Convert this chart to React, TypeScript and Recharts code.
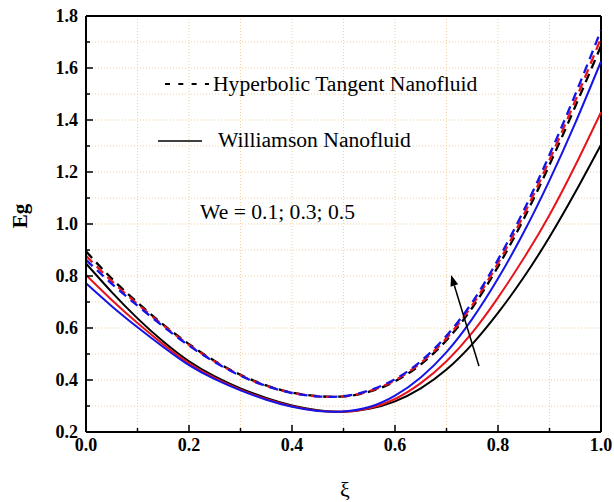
import React from "react";
import {
  LineChart,
  Line,
  XAxis,
  YAxis,
  CartesianGrid,
  ReferenceLine,
} from "recharts";

const xi = [0, 0.05, 0.1, 0.15, 0.2, 0.25, 0.3, 0.35, 0.4, 0.45, 0.5, 0.55, 0.6, 0.65, 0.7, 0.75, 0.8, 0.85, 0.9, 0.95, 1];

// Hyperbolic tangent nanofluid (dashed), We = 0.1; 0.3; 0.5
const hypBlack = [0.895, 0.79, 0.698, 0.613, 0.538, 0.473, 0.42, 0.379, 0.352, 0.338, 0.337, 0.355, 0.395, 0.46, 0.553, 0.678, 0.836, 1.02, 1.228, 1.452, 1.685];
const hypRed = [0.878, 0.78, 0.692, 0.61, 0.535, 0.471, 0.418, 0.378, 0.351, 0.337, 0.337, 0.357, 0.399, 0.466, 0.561, 0.688, 0.849, 1.035, 1.246, 1.474, 1.715];
const hypBlue = [0.862, 0.77, 0.686, 0.606, 0.532, 0.469, 0.416, 0.377, 0.35, 0.337, 0.338, 0.36, 0.403, 0.472, 0.57, 0.699, 0.863, 1.052, 1.266, 1.498, 1.745];

// Williamson nanofluid (solid)
const wilBlack = [0.848, 0.738, 0.637, 0.548, 0.472, 0.414, 0.368, 0.331, 0.302, 0.284, 0.278, 0.289, 0.318, 0.368, 0.44, 0.538, 0.658, 0.795, 0.95, 1.122, 1.305];
const wilRed = [0.804, 0.708, 0.619, 0.537, 0.464, 0.408, 0.363, 0.327, 0.299, 0.282, 0.278, 0.291, 0.327, 0.388, 0.472, 0.582, 0.717, 0.868, 1.035, 1.225, 1.43];
const wilBlue = [0.772, 0.684, 0.603, 0.527, 0.457, 0.403, 0.36, 0.324, 0.297, 0.281, 0.279, 0.296, 0.34, 0.41, 0.507, 0.635, 0.79, 0.968, 1.168, 1.388, 1.625];

const xTicks = [0, 0.1, 0.2, 0.3, 0.4, 0.5, 0.6, 0.7, 0.8, 0.9, 1];
const yTicks = [0.2, 0.3, 0.4, 0.5, 0.6, 0.7, 0.8, 0.9, 1, 1.1, 1.2, 1.3, 1.4, 1.5, 1.6, 1.7, 1.8];

// arrow tail -> head, data coords
const arrowPts = [
  { x: 0.763, y: 0.454 },
  { x: 0.709, y: 0.804 },
];

const rows = xi.map((x, i) => ({
  x,
  hb: hypBlack[i],
  hr: hypRed[i],
  hbl: hypBlue[i],
  wb: wilBlack[i],
  wr: wilRed[i],
  wbl: wilBlue[i],
}));

const FONT = "'Liberation Serif', 'Times New Roman', serif";
const RED = "#e8141c";
const BLUE = "#1414e6";

const isMajor = (v: number) => Math.round(v * 10) % 2 === 0;

const XTick = (props: any) => {
  const { x, y, payload } = props;
  const major = isMajor(payload.value);
  return (
    <g>
      <line x1={x} x2={x} y1={y} y2={y - (major ? 7 : 4)} stroke="#000" strokeWidth={1.5} />
      {major && (
        <text x={x} y={y + 19} textAnchor="middle" fontFamily={FONT} fontWeight="bold" fontSize={18} fill="#000">
          {payload.value.toFixed(1)}
        </text>
      )}
    </g>
  );
};

const YTick = (props: any) => {
  const { x, y, payload } = props;
  const major = isMajor(payload.value);
  return (
    <g>
      <line x1={x} x2={x + (major ? 7 : 4)} y1={y} y2={y} stroke="#000" strokeWidth={1.5} />
      {major && (
        <text x={x - 8} y={y + 6} textAnchor="end" fontFamily={FONT} fontWeight="bold" fontSize={18} fill="#000">
          {payload.value.toFixed(1)}
        </text>
      )}
    </g>
  );
};

const Arrow = (props: any) => {
  const { x1, y1, x2, y2 } = props;
  const ang = Math.atan2(y2 - y1, x2 - x1);
  const len = 11;
  const w = 4;
  const bx = x2 - len * Math.cos(ang);
  const by = y2 - len * Math.sin(ang);
  const px = -Math.sin(ang) * w;
  const py = Math.cos(ang) * w;
  return (
    <g>
      <line x1={x1} y1={y1} x2={bx} y2={by} stroke="#000" strokeWidth={1.5} />
      <polygon points={`${x2},${y2} ${bx + px},${by + py} ${bx - px},${by - py}`} fill="#000" />
    </g>
  );
};

export default function App() {
  return (
    <div style={{ position: "absolute", left: 0, top: 0, width: 614, height: 502, background: "#fff" }}>
      <LineChart width={614} height={502} data={rows} margin={{ top: 16, right: 13, bottom: 30, left: 26 }}>
        <CartesianGrid stroke="#f0cf9f" strokeDasharray="1 2" />
        <XAxis
          dataKey="x"
          type="number"
          domain={[0, 1]}
          ticks={xTicks}
          interval={0}
          height={40}
          tickSize={0}
          tickMargin={0}
          tickLine={false}
          tick={<XTick />}
          axisLine={{ stroke: "#000", strokeWidth: 2 }}
        />
        <YAxis
          type="number"
          domain={[0.2, 1.8]}
          ticks={yTicks}
          interval={0}
          width={60}
          tickSize={0}
          tickMargin={0}
          tickLine={false}
          tick={<YTick />}
          axisLine={{ stroke: "#000", strokeWidth: 2 }}
        />
        <ReferenceLine y={1.8} stroke="#000" strokeWidth={2} />
        <ReferenceLine x={1} stroke="#000" strokeWidth={2} />

        <Line type="natural" dataKey="wb" stroke="#000" strokeWidth={2} dot={false} isAnimationActive={false} />
        <Line type="natural" dataKey="wr" stroke={RED} strokeWidth={2} dot={false} isAnimationActive={false} />
        <Line type="natural" dataKey="wbl" stroke={BLUE} strokeWidth={2} dot={false} isAnimationActive={false} />
        <Line type="natural" dataKey="hb" stroke="#000" strokeWidth={2.3} strokeDasharray="9 6" dot={false} isAnimationActive={false} />
        <Line type="natural" dataKey="hr" stroke={RED} strokeWidth={2.3} strokeDasharray="9 6" dot={false} isAnimationActive={false} />
        <Line type="natural" dataKey="hbl" stroke={BLUE} strokeWidth={2.3} strokeDasharray="9 6" dot={false} isAnimationActive={false} />

        <ReferenceLine segment={arrowPts} shape={<Arrow />} />
      </LineChart>

      <svg width={614} height={502} style={{ position: "absolute", left: 0, top: 0, pointerEvents: "none" }}>
        <line x1={165} x2={209} y1={84} y2={84} stroke="#000" strokeWidth={2} strokeDasharray="5 8.3" />
        <text x={213} y={91} fontFamily={FONT} fontSize={21.6} fill="#000">Hyperbolic Tangent Nanofluid</text>
        <line x1={158} x2={202} y1={141} y2={141} stroke="#000" strokeWidth={1.5} />
        <text x={218} y={147} fontFamily={FONT} fontSize={21.6} fill="#000">Williamson Nanofluid</text>
        <text x={200} y={219} fontFamily={FONT} fontSize={21.6} fill="#000">We = 0.1; 0.3; 0.5</text>
        <text
          x={27}
          y={216}
          transform="rotate(-90 27 216)"
          textAnchor="middle"
          fontFamily={FONT}
          fontWeight="bold"
          fontSize={21}
          fill="#000"
        >
          Eg
        </text>
        <text x={345} y={497} textAnchor="middle" fontFamily={FONT} fontSize={22} fill="#000">ξ</text>
      </svg>
    </div>
  );
}
